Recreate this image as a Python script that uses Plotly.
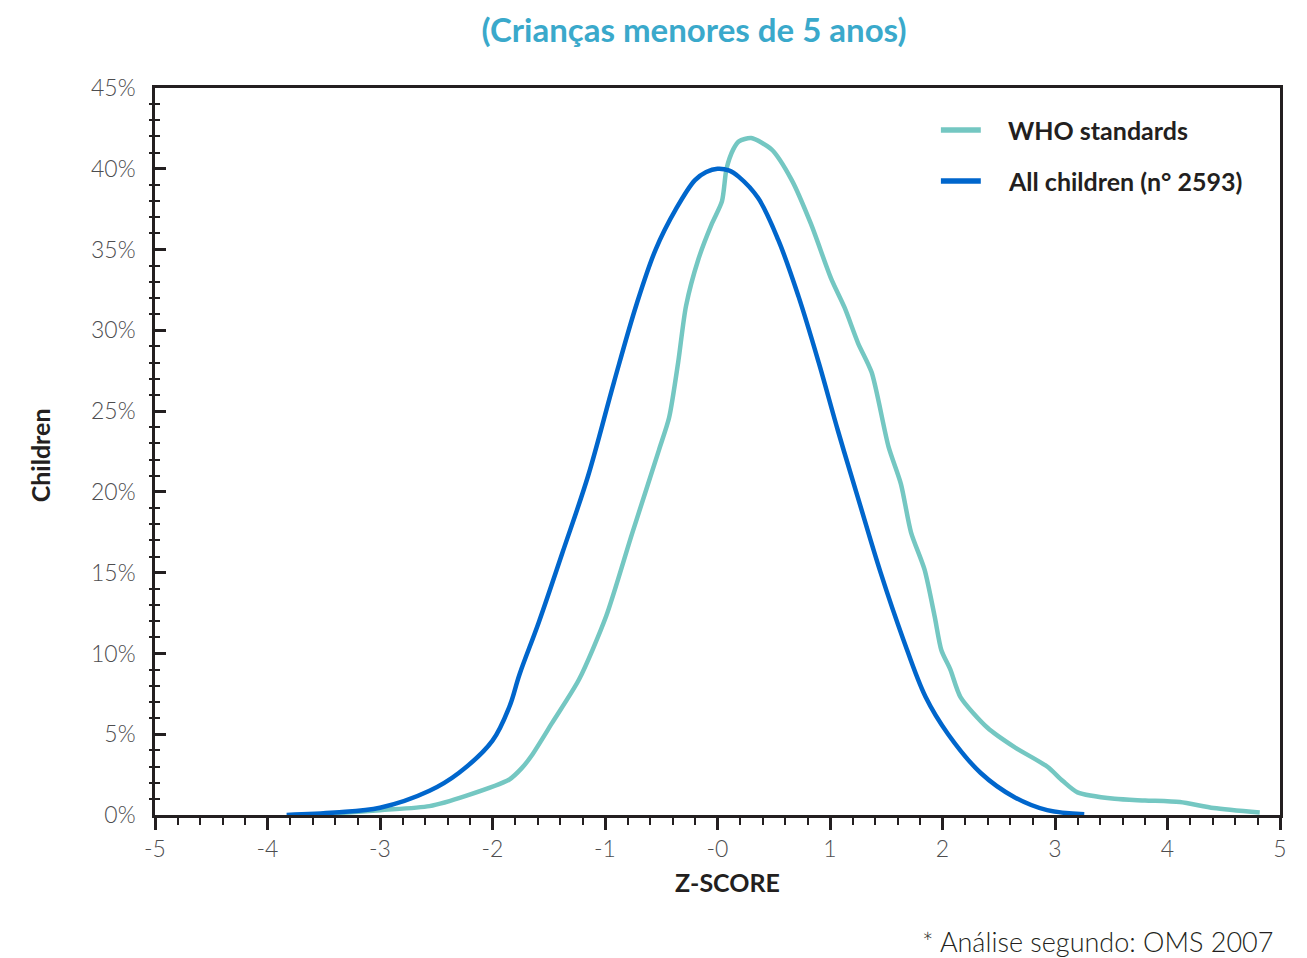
import plotly.graph_objects as go

# ---- data ----
who_z = [-3.49, -3.0, -2.56, -2.23, -1.85, -1.74, -1.65, -1.47, -1.23, -0.99, -0.76,
         -0.52, -0.43, -0.35, -0.28, -0.17, -0.05, 0.04, 0.08, 0.14, 0.19, 0.30, 0.48,
         0.66, 0.83, 1.01, 1.13, 1.25, 1.37, 1.52, 1.63, 1.72, 1.84, 1.93, 1.99, 2.07,
         2.16, 2.40, 2.64, 2.93, 3.07, 3.20, 3.53, 3.80, 4.11, 4.41, 4.82]
who_pct = [0.05, 0.3, 0.55, 1.2, 2.2, 2.9, 3.7, 5.7, 8.4, 12.3, 17.4,
           22.6, 24.6, 28.0, 31.5, 34.4, 36.6, 38.0, 40.0, 41.2, 41.7, 41.9, 41.2,
           39.3, 36.6, 33.2, 31.4, 29.2, 27.4, 22.8, 20.5, 17.5, 15.2, 12.3, 10.2, 9.0,
           7.3, 5.4, 4.2, 3.0, 2.1, 1.4, 1.0, 0.9, 0.8, 0.43, 0.15]

all_z = [-3.83, -3.4, -3.0, -2.56, -2.30, -2.0, -1.85, -1.76, -1.59, -1.38, -1.15,
         -0.92, -0.72, -0.55, -0.37, -0.20, -0.10, 0.0, 0.10, 0.19, 0.36, 0.54, 0.72,
         0.90, 1.07, 1.25, 1.45, 1.65, 1.85, 2.05, 2.34, 2.64, 2.93, 3.26]
all_pct = [0.0, 0.15, 0.45, 1.5, 2.6, 4.6, 6.7, 8.7, 11.9, 16.2, 21.0,
           26.8, 31.6, 35.0, 37.5, 39.3, 39.8, 40.0, 39.9, 39.5, 38.2, 35.6, 32.1,
           28.0, 23.8, 19.6, 15.0, 10.9, 7.3, 5.0, 2.6, 1.1, 0.3, 0.05]

x_tickvals = [-5, -4, -3, -2, -1, 0, 1, 2, 3, 4, 5]
x_ticktext = ["-5", "-4", "-3", "-2", "-1", "-0", "1", "2", "3", "4", "5"]
y_tickvals = [0, 5, 10, 15, 20, 25, 30, 35, 40, 45]
y_ticktext = ["0%", "5%", "10%", "15%", "20%", "25%", "30%", "35%", "40%", "45%"]
y_minor_vals = [v for v in range(0, 46) if v % 5 != 0]

series_names = ["WHO standards", "All children (n\u00b0 2593)"]
TEAL = "#74c7c2"
BLUE = "#0066cc"
AXIS = "#231f20"
TICKFONT = dict(family="Lato", size=23, color="#4d4d4f", weight=300)

fig = go.Figure()
fig.add_trace(go.Scatter(x=who_z, y=who_pct, mode="lines", name=series_names[0],
                         line=dict(color=TEAL, width=4.5, shape="spline", smoothing=0.7),
                         showlegend=False, yaxis="y"))
fig.add_trace(go.Scatter(x=all_z, y=all_pct, mode="lines", name=series_names[1],
                         line=dict(color=BLUE, width=4.5, shape="spline", smoothing=1.0),
                         showlegend=False, yaxis="y2"))

# page has an 8px body margin; figure placed so the plot area matches the reference
W, H = 1291, 950
fig.update_layout(
    width=W, height=H,
    margin=dict(l=147, r=16, t=80, b=143),
    paper_bgcolor="white", plot_bgcolor="white",
    title=dict(text="<b>(Crianças menores de 5 anos)</b>", x=686 / W, xanchor="center",
               y=1 - 22 / H, yanchor="middle",
               font=dict(family="Lato", size=33, color="#3aa9cb")),
    xaxis=dict(range=[-5, 5], tickmode="array", tickvals=x_tickvals, ticktext=x_ticktext,
               showgrid=False, zeroline=False, showline=True, linecolor=AXIS, linewidth=2.5,
               mirror=True, ticks="outside", ticklen=12, tickwidth=2.5, tickcolor=AXIS,
               tickfont=TICKFONT,
               minor=dict(dtick=0.2, tick0=0, ticks="outside", ticklen=7, tickwidth=2,
                          tickcolor=AXIS, showgrid=False)),
    yaxis=dict(range=[0, 45], tickmode="array", tickvals=y_tickvals, ticktext=y_ticktext,
               showgrid=False, zeroline=False, showline=True, linecolor=AXIS, linewidth=2.5,
               mirror=True, ticks="inside", ticklen=11, tickwidth=2.5, tickcolor=AXIS,
               tickfont=TICKFONT, ticklabelstandoff=12,
               minor=dict(dtick=1, tick0=0, ticks="inside", ticklen=5, tickwidth=2,
                          tickcolor=AXIS, showgrid=False)),
    yaxis2=dict(range=[0, 45], overlaying="y", side="left", tickmode="array",
                tickvals=y_minor_vals, showticklabels=False, ticks="outside", ticklen=5,
                tickwidth=2, tickcolor=AXIS, showgrid=False, zeroline=False, showline=False),
)

P_W, P_H = 1128, 727

def px_x(px):
    return (px - 155) / P_W

def px_y(py):
    return (815 - py) / P_H

annos = [
    dict(text="<b>Children</b>", x=px_x(40), y=px_y(455), textangle=-90,
         font=dict(family="Lato", size=25, color=AXIS)),
    dict(text="<b>Z-SCORE</b>", x=px_x(729), y=px_y(882),
         font=dict(family="Lato", size=25, color=AXIS)),
    dict(text="* Análise segundo: OMS 2007", x=px_x(1278), y=px_y(941), xanchor="right",
         font=dict(family="Lato", size=27, color=AXIS, weight=300)),
]
legend_y = [130, 181]
legend_colors = [TEAL, BLUE]
shapes = []
for name, col, ly in zip(series_names, legend_colors, legend_y):
    shapes.append(dict(type="line", xref="paper", yref="paper", x0=px_x(943), x1=px_x(983),
                       y0=px_y(ly), y1=px_y(ly), line=dict(color=col, width=5.5)))
    annos.append(dict(text=f"<b>{name}</b>", x=px_x(1008), y=px_y(ly), xanchor="left",
                      font=dict(family="Lato", size=25, color=AXIS)))

for a in annos:
    a.setdefault("xref", "paper")
    a.setdefault("yref", "paper")
    a.setdefault("showarrow", False)
    a.setdefault("xanchor", "center")
    a.setdefault("yanchor", "middle")
fig.update_layout(annotations=annos, shapes=shapes)

fig.write_html("out.html")
